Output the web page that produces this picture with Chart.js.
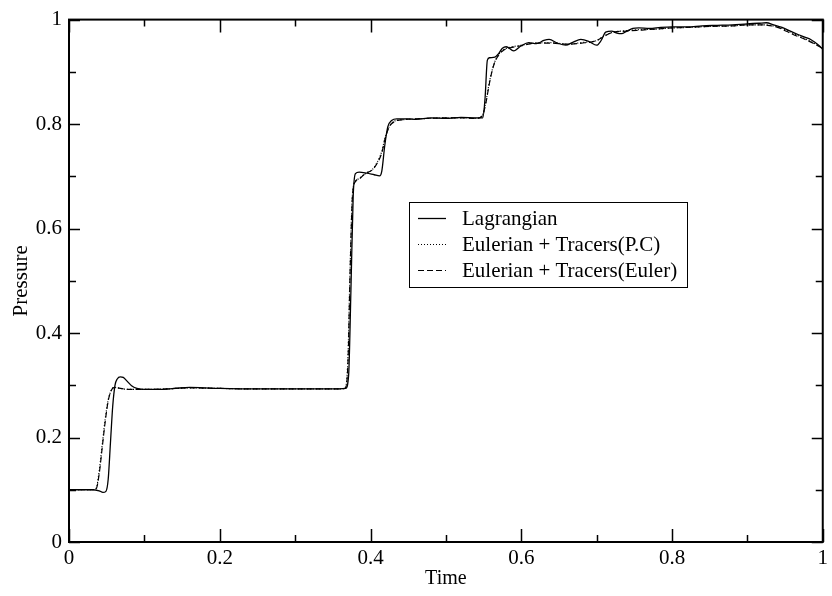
<!DOCTYPE html>
<html>
<head>
<meta charset="utf-8">
<title>Pressure vs Time</title>
<script src="https://cdn.jsdelivr.net/npm/chart.js@4.4.0/dist/chart.umd.min.js"></script>
<style>
  html, body { margin: 0; padding: 0; background: #fff; }
  #wrap { width: 832px; height: 596px; }
</style>
</head>
<body>
<div id="wrap"><canvas id="grafico"></canvas></div>
<script>
// Lagrangian run
const lagTime = [
    0, 0.03, 0.04, 0.045, 0.049, 0.052, 0.055, 0.058, 0.061, 0.064,
    0.068, 0.072, 0.077, 0.083, 0.09, 0.1, 0.12, 0.14, 0.16, 0.18,
    0.2, 0.25, 0.3, 0.35, 0.367, 0.371, 0.374, 0.377, 0.38, 0.385,
    0.395, 0.405, 0.412, 0.415, 0.419, 0.423, 0.428, 0.435, 0.45, 0.46,
    0.48, 0.5, 0.52, 0.54, 0.549, 0.552, 0.555, 0.558, 0.565, 0.57,
    0.575, 0.58, 0.59, 0.6, 0.61, 0.62, 0.63, 0.637, 0.648, 0.659,
    0.669, 0.679, 0.69, 0.7, 0.706, 0.712, 0.72, 0.727, 0.733, 0.74,
    0.748, 0.756, 0.77, 0.785, 0.8, 0.82, 0.84, 0.86, 0.88, 0.9,
    0.915, 0.925, 0.935, 0.946, 0.957, 0.968, 0.977, 0.985, 0.993, 1.0
];
const lagPressure = [
    0.1, 0.1, 0.098, 0.095, 0.097, 0.12, 0.19, 0.26, 0.3, 0.312,
    0.316, 0.315, 0.308, 0.299, 0.294, 0.292, 0.292, 0.294, 0.296, 0.295,
    0.294, 0.293, 0.293, 0.293, 0.294, 0.32, 0.48, 0.66, 0.705, 0.708,
    0.706, 0.703, 0.701, 0.71, 0.76, 0.795, 0.807, 0.81, 0.81, 0.809,
    0.812, 0.811, 0.813, 0.812, 0.812, 0.85, 0.922, 0.927, 0.928, 0.935,
    0.945, 0.948, 0.94, 0.95, 0.956, 0.954, 0.96, 0.962, 0.955, 0.951,
    0.957, 0.962, 0.958, 0.951, 0.96, 0.976, 0.978, 0.974, 0.973, 0.978,
    0.983, 0.984, 0.983, 0.985, 0.986, 0.986, 0.988, 0.989, 0.99, 0.992,
    0.993, 0.994, 0.99, 0.985, 0.978, 0.971, 0.966, 0.961, 0.953, 0.943
];

// Eulerian + tracers, predictor-corrector
const pcTime = [
    0, 0.03, 0.036, 0.04, 0.044, 0.048, 0.052, 0.056, 0.06, 0.065,
    0.072, 0.08, 0.1, 0.13, 0.16, 0.2, 0.25, 0.3, 0.35, 0.366,
    0.37, 0.373, 0.376, 0.38, 0.385, 0.393, 0.403, 0.41, 0.415, 0.419,
    0.425, 0.432, 0.44, 0.46, 0.48, 0.5, 0.52, 0.54, 0.548, 0.553,
    0.558, 0.564, 0.57, 0.577, 0.585, 0.6, 0.62, 0.64, 0.66, 0.68,
    0.7, 0.71, 0.72, 0.74, 0.76, 0.78, 0.8, 0.82, 0.85, 0.88,
    0.9, 0.92, 0.94, 0.96, 0.98, 1.0
];
const pcPressure = [
    0.1, 0.1, 0.103, 0.135, 0.185, 0.235, 0.272, 0.29, 0.296, 0.295,
    0.293, 0.292, 0.292, 0.293, 0.295, 0.294, 0.293, 0.293, 0.293, 0.294,
    0.35, 0.53, 0.665, 0.69, 0.696, 0.705, 0.714, 0.73, 0.748, 0.772,
    0.796, 0.806, 0.808, 0.81, 0.811, 0.812, 0.812, 0.811, 0.816, 0.842,
    0.882, 0.916, 0.933, 0.943, 0.947, 0.951, 0.955, 0.956, 0.953, 0.956,
    0.96, 0.969, 0.975, 0.979, 0.981, 0.982, 0.984, 0.985, 0.987, 0.988,
    0.99, 0.99, 0.986, 0.974, 0.961, 0.946
];

// Eulerian + tracers, Euler step
const eulTime = [
    0, 0.03, 0.036, 0.04, 0.044, 0.048, 0.052, 0.056, 0.06, 0.065,
    0.072, 0.08, 0.1, 0.13, 0.16, 0.2, 0.25, 0.3, 0.35, 0.366,
    0.37, 0.373, 0.376, 0.38, 0.385, 0.393, 0.403, 0.41, 0.415, 0.419,
    0.425, 0.432, 0.44, 0.46, 0.48, 0.5, 0.52, 0.54, 0.548, 0.553,
    0.558, 0.564, 0.57, 0.577, 0.585, 0.6, 0.62, 0.64, 0.66, 0.68,
    0.7, 0.71, 0.72, 0.74, 0.76, 0.78, 0.8, 0.82, 0.85, 0.88,
    0.9, 0.92, 0.94, 0.96, 0.98, 1.0
];
const eulPressure = [
    0.1, 0.1, 0.102, 0.13, 0.18, 0.23, 0.27, 0.29, 0.296, 0.295,
    0.293, 0.292, 0.292, 0.293, 0.295, 0.294, 0.293, 0.293, 0.293, 0.294,
    0.34, 0.52, 0.66, 0.69, 0.695, 0.705, 0.713, 0.728, 0.745, 0.77,
    0.795, 0.805, 0.808, 0.81, 0.811, 0.812, 0.812, 0.811, 0.815, 0.84,
    0.88, 0.915, 0.932, 0.942, 0.946, 0.95, 0.955, 0.955, 0.953, 0.955,
    0.96, 0.968, 0.975, 0.978, 0.98, 0.982, 0.984, 0.985, 0.987, 0.988,
    0.99, 0.99, 0.985, 0.972, 0.96, 0.945
];

const axisTicks = [0, 0.2, 0.4, 0.6, 0.8, 1];
const seriesNames = ['Lagrangian', 'Eulerian + Tracers(P.C)', 'Eulerian + Tracers(Euler)'];

const fonte = 'Liberation Serif, Times New Roman, serif';

function pontos(xs, ys) {
    return xs.map((x, i) => ({ x: x, y: ys[i] }));
}

function rotulo(v) {
    if (v === 0) return '0';
    if (v === 1) return '1';
    return v.toFixed(1);
}

// moldura, ticks para dentro e legenda em caixa
const molduraPlugin = {
    id: 'moldura',
    afterDraw(chart) {
        const { ctx, chartArea: a, scales } = chart;
        const sx = scales.x, sy = scales.y;
        ctx.save();
        ctx.strokeStyle = '#000';

        ctx.lineWidth = 1.5;
        for (let i = 0; i <= 10; i++) {
            const v = i / 10;
            const major = i % 2 === 0;
            const lx = major ? 13 : 7;
            const ly = major ? 11 : 7;
            const px = Math.round(sx.getPixelForValue(v)) + 0.5;
            const py = Math.round(sy.getPixelForValue(v)) + 0.5;
            ctx.beginPath();
            ctx.moveTo(px, a.bottom); ctx.lineTo(px, a.bottom - lx);
            ctx.moveTo(px, a.top); ctx.lineTo(px, a.top + lx);
            ctx.moveTo(a.left, py); ctx.lineTo(a.left + ly, py);
            ctx.moveTo(a.right, py); ctx.lineTo(a.right - ly, py);
            ctx.stroke();
        }

        ctx.lineWidth = 2;
        ctx.strokeRect(a.left, a.top, a.right - a.left, a.bottom - a.top);

        // legenda
        const bx = 409, by = 202, bw = 278, bh = 85;
        ctx.fillStyle = '#fff';
        ctx.fillRect(bx, by, bw, bh);
        ctx.lineWidth = 1;
        ctx.strokeRect(bx + 0.5, by + 0.5, bw, bh);
        const linhas = [218, 244, 270];
        ctx.font = '21px ' + fonte;
        ctx.textBaseline = 'middle';
        ctx.fillStyle = '#000';
        chart.data.datasets.forEach((ds, i) => {
            const y = linhas[i] + 0.5;
            ctx.lineWidth = ds.borderWidth;
            ctx.setLineDash(ds.borderDash || []);
            ctx.beginPath();
            ctx.moveTo(418, y);
            ctx.lineTo(446, y);
            ctx.stroke();
            ctx.setLineDash([]);
            ctx.fillText(ds.label, 462, linhas[i] + 1);
        });
        ctx.restore();
    }
};

const ctx = document.getElementById('grafico').getContext('2d');
const chart = new Chart(ctx, {
    type: 'scatter',
    data: {
        datasets: [
            {
                label: seriesNames[0],
                data: pontos(lagTime, lagPressure),
                borderColor: '#000',
                borderWidth: 1.3,
            },
            {
                label: seriesNames[1],
                data: pontos(pcTime, pcPressure),
                borderColor: '#000',
                borderWidth: 1.2,
                borderDash: [1, 2],
            },
            {
                label: seriesNames[2],
                data: pontos(eulTime, eulPressure),
                borderColor: '#000',
                borderWidth: 1.2,
                borderDash: [6, 3],
            },
        ],
    },
    options: {
        responsive: true,
        maintainAspectRatio: false,
        animation: false,
        showLine: true,
        elements: {
            point: { radius: 0 },
            line: { cubicInterpolationMode: 'monotone', fill: false },
        },
        layout: { padding: { top: 13, right: 8, left: 0, bottom: 0 } },
        plugins: {
            legend: { display: false },
            tooltip: { enabled: false },
        },
        scales: {
            x: {
                type: 'linear',
                min: 0,
                max: 1,
                afterBuildTicks: (s) => { s.ticks = axisTicks.map(v => ({ value: v })); },
                afterFit: (s) => { s.height = 54; },
                grid: { display: false, drawTicks: false },
                border: { display: false },
                ticks: {
                    padding: 4,
                    color: '#000',
                    font: { family: fonte, size: 21 },
                    maxRotation: 0,
                    callback: (v) => rotulo(v),
                },
                title: {
                    display: true,
                    text: 'Time',
                    color: '#000',
                    font: { family: fonte, size: 20 },
                    padding: { top: 0, bottom: 5 },
                },
            },
            y: {
                type: 'linear',
                min: 0,
                max: 1,
                afterBuildTicks: (s) => { s.ticks = axisTicks.map(v => ({ value: v })); },
                afterFit: (s) => { s.width = 69; },
                grid: { display: false, drawTicks: false },
                border: { display: false },
                ticks: {
                    padding: 7,
                    color: '#000',
                    font: { family: fonte, size: 21 },
                    callback: (v) => rotulo(v),
                },
                title: {
                    display: true,
                    text: 'Pressure',
                    color: '#000',
                    font: { family: fonte, size: 21 },
                    padding: { top: 9, bottom: 0 },
                },
            },
        },
    },
    plugins: [molduraPlugin],
});
</script>
</body>
</html>
